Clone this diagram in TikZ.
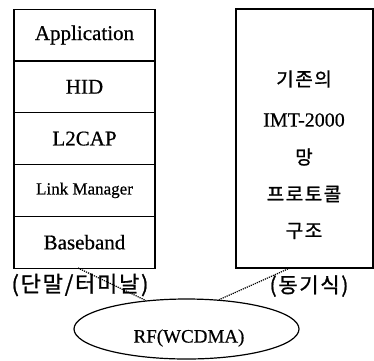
\documentclass[tikz,border=0pt]{standalone}
\usepackage{fontspec}
\setmainfont[FakeBold=0.6]{Liberation Serif}
\newfontfamily\krfont[LetterSpace=8,FakeBold=1]{Noto Sans CJK KR}
\usepackage{tikz}
\usetikzlibrary{shapes.geometric}

\begin{document}
\begin{tikzpicture}[x=1pt,y=-1pt,
  layer/.style={draw,line width=1.2pt,minimum width=141pt,minimum height=51.8pt,inner sep=0pt,font=\fontsize{21}{24}\selectfont},
  hangul/.style={inner sep=0pt,font=\krfont\fontsize{19}{22}\selectfont},
  latin/.style={inner sep=0pt,font=\fontsize{20}{24}\selectfont},
  link/.style={densely dotted,line width=1.2pt}]
\useasboundingbox (0,0) rectangle (374,360);
% terminal stack
\node[layer] (app) at (84.5,35) {Application};
\node[layer] (hid) at (84.5,86.8) {HID};
\node[layer] (l2cap) at (84.5,138.6) {L2CAP};
\node[layer,font=\fontsize{17}{20}\selectfont] (lm) at (84.5,190.4) {Link Manager};
\node[layer] (base) at (84.5,242.2) {Baseband};
%
% network side
\node[draw,line width=1.2pt,minimum width=137pt,minimum height=259pt,inner sep=0pt] (imt) at (304.5,138.5) {};
\node[hangul] (t1) at (304,79) {기존의};
\node[latin] (t2) at (304,120) {IMT-2000};
\node[hangul] (t3) at (304,157) {망};
\node[hangul] (t4) at (304,194) {프로토콜};
\node[hangul] (t5) at (304,231) {구조};
%
\node[hangul,font=\krfont\fontsize{22}{25}\selectfont] (term) at (80,285) {(단말/터미날)};
\node[hangul,font=\krfont\fontsize{21}{24}\selectfont] (sync) at (309,286) {(동기식)};
%
% radio part
\node[draw,ellipse,line width=1.2pt,minimum width=225pt,minimum height=60pt,inner sep=0pt] (rf) at (186.5,329) {};
\node[latin,font=\fontsize{19}{22}\selectfont] (rftext) at (189,338) {RF(WCDMA)};
\coordinate (lt) at (78,268);
\coordinate (rt) at (290,268);
\draw[link] (lt) -- (rf.145);
\draw[link] (rt) -- (rf.42); % new
\end{tikzpicture}
\end{document}
